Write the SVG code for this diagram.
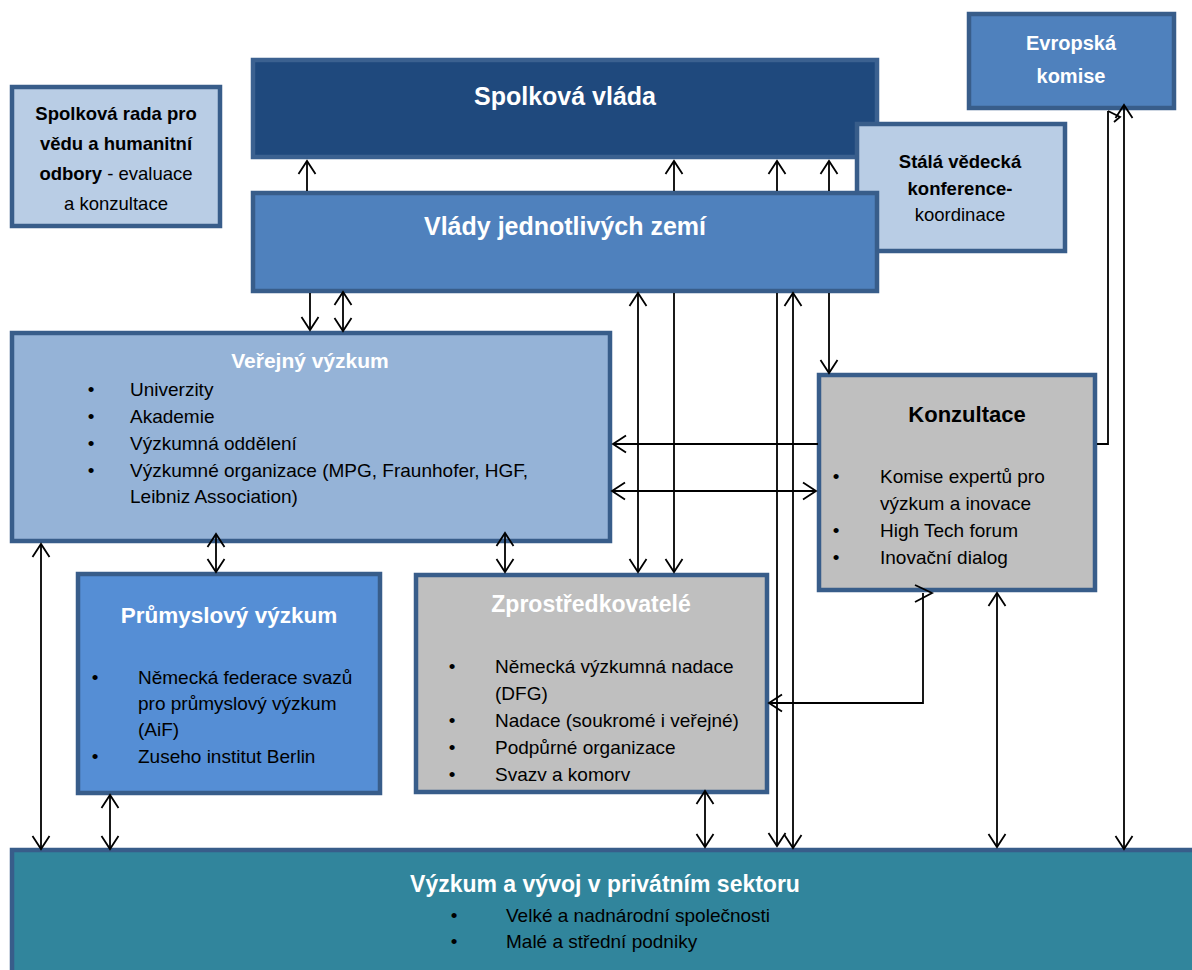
<svg xmlns="http://www.w3.org/2000/svg" width="1192" height="970" viewBox="0 0 1192 970">
<style>
.box{stroke:#385D8A;stroke-width:4.5}
text{font-family:"Liberation Sans",Arial,sans-serif;fill:#000}
.t{font-weight:bold;fill:#fff;text-anchor:middle}
.b{font-size:19px}
.bu{font-size:19px;text-anchor:middle}
.c{fill:none;stroke:#000;stroke-width:1.8}
</style>
<defs>
<marker id="ah" viewBox="-15 -11 17 22" refX="0" refY="0" markerWidth="17" markerHeight="22" markerUnits="userSpaceOnUse" orient="auto-start-reverse">
<path d="M-13,-8.5 L0,0 L-13,8.5" fill="none" stroke="#000" stroke-width="1.8"/>
</marker>
</defs>
<rect width="1192" height="970" fill="#fff"/>

<g id="spolkova-rada">
<rect class="box" x="12" y="87" width="208" height="139" fill="#B9CDE5"/>
<text x="116" y="120" font-size="18.5" text-anchor="middle" font-weight="bold">Spolková rada pro</text>
<text x="116" y="150" font-size="18.5" text-anchor="middle" font-weight="bold">vědu a humanitní</text>
<text x="116" y="180" font-size="18.5" text-anchor="middle"><tspan font-weight="bold">odbory</tspan> - evaluace</text>
<text x="116" y="210" font-size="18.5" text-anchor="middle">a konzultace</text>
</g>

<g id="spolkova-vlada">
<rect x="253" y="60" width="624" height="97" fill="#1F497D" stroke="#3B6190" stroke-width="4.5"/>
<text class="t" x="565" y="105" font-size="25">Spolková vláda</text>
</g>

<g id="stala-konference">
<rect class="box" x="857" y="124" width="208" height="127" fill="#B9CDE5"/>
<text x="960" y="168" font-size="18.5" text-anchor="middle" font-weight="bold">Stálá vědecká</text>
<text x="960" y="195" font-size="18.5" text-anchor="middle" font-weight="bold">konference-</text>
<text x="960" y="221" font-size="18.5" text-anchor="middle">koordinace</text>
</g>

<g id="vlady-zemi">
<rect class="box" x="253" y="193" width="624" height="98" fill="#4F81BD"/>
<text class="t" x="565" y="235" font-size="25">Vlády jednotlivých zemí</text>
</g>

<g id="evropska-komise">
<rect class="box" x="969" y="14" width="205" height="94" fill="#4F81BD"/>
<text class="t" x="1071" y="50" font-size="20">Evropská</text>
<text class="t" x="1071" y="83" font-size="20">komise</text>
</g>

<g id="verejny-vyzkum">
<rect class="box" x="12" y="333" width="598" height="208" fill="#95B3D7"/>
<text class="t" x="310" y="368" font-size="21">Veřejný výzkum</text>
<text class="bu" x="91" y="396">•</text><text class="b" x="130" y="396">Univerzity</text>
<text class="bu" x="91" y="423">•</text><text class="b" x="130" y="423">Akademie</text>
<text class="bu" x="91" y="450">•</text><text class="b" x="130" y="450">Výzkumná oddělení</text>
<text class="bu" x="91" y="477">•</text><text class="b" x="130" y="477">Výzkumné organizace (MPG, Fraunhofer, HGF,</text>
<text class="b" x="130" y="503">Leibniz Association)</text>
</g>

<g id="konzultace">
<rect class="box" x="819" y="375" width="276" height="215" fill="#BFBFBF"/>
<text x="967" y="422" font-size="22" text-anchor="middle" font-weight="bold">Konzultace</text>
<text class="bu" x="836" y="483">•</text><text class="b" x="880" y="483">Komise expertů pro</text>
<text class="b" x="880" y="510">výzkum a inovace</text>
<text class="bu" x="836" y="537">•</text><text class="b" x="880" y="537">High Tech forum</text>
<text class="bu" x="836" y="564">•</text><text class="b" x="880" y="564">Inovační dialog</text>
</g>

<g id="prumyslovy-vyzkum">
<rect class="box" x="78" y="574" width="302" height="219" fill="#558ED5"/>
<text class="t" x="229" y="623" font-size="22.5">Průmyslový výzkum</text>
<text class="bu" x="95" y="684">•</text><text class="b" x="138" y="684">Německá federace svazů</text>
<text class="b" x="138" y="710">pro průmyslový výzkum</text>
<text class="b" x="138" y="736">(AiF)</text>
<text class="bu" x="95" y="763">•</text><text class="b" x="138" y="763">Zuseho institut Berlin</text>
</g>

<g id="zprostredkovatele">
<rect class="box" x="416" y="575" width="351" height="217" fill="#BFBFBF"/>
<text class="t" x="591" y="612" font-size="23">Zprostředkovatelé</text>
<text class="bu" x="452" y="673">•</text><text class="b" x="495" y="673">Německá výzkumná nadace</text>
<text class="b" x="495" y="700">(DFG)</text>
<text class="bu" x="452" y="727">•</text><text class="b" x="495" y="727">Nadace (soukromé i veřejné)</text>
<text class="bu" x="452" y="754">•</text><text class="b" x="495" y="754">Podpůrné organizace</text>
<text class="bu" x="452" y="781">•</text><text class="b" x="495" y="781">Svazv a komorv</text>
</g>

<g id="privatni-sektor">
<rect class="box" x="12" y="850" width="1190" height="130" fill="#31859C"/>
<text class="t" x="605" y="892" font-size="23">Výzkum a vývoj v privátním sektoru</text>
<text class="bu" x="454" y="922">•</text><text class="b" x="506" y="922">Velké a nadnárodní společnosti</text>
<text class="bu" x="454" y="948">•</text><text class="b" x="506" y="948">Malé a střední podniky</text>
</g>

<g id="connectors">
<line class="c" x1="307" y1="191" x2="307" y2="161" marker-end="url(#ah)"/>
<line class="c" x1="674" y1="191" x2="674" y2="161" marker-end="url(#ah)"/>
<line class="c" x1="777" y1="191" x2="777" y2="161" marker-end="url(#ah)"/>
<line class="c" x1="829" y1="191" x2="829" y2="161" marker-end="url(#ah)"/>
<line class="c" x1="310" y1="293" x2="310" y2="330" marker-end="url(#ah)"/>
<line class="c" x1="343" y1="292" x2="343" y2="331" marker-start="url(#ah)" marker-end="url(#ah)"/>
<line class="c" x1="638" y1="293" x2="638" y2="572" marker-start="url(#ah)" marker-end="url(#ah)"/>
<line class="c" x1="674" y1="293" x2="674" y2="572" marker-end="url(#ah)"/>
<line class="c" x1="777" y1="293" x2="777" y2="846" marker-end="url(#ah)"/>
<line class="c" x1="793" y1="293" x2="793" y2="848" marker-start="url(#ah)" marker-end="url(#ah)"/>
<line class="c" x1="829" y1="293" x2="829" y2="373" marker-end="url(#ah)"/>
<line class="c" x1="1124" y1="105" x2="1124" y2="849" marker-start="url(#ah)" marker-end="url(#ah)"/>
<polyline class="c" points="1108,111 1108,444 1097,444"/>
<polyline class="c" points="1108,111 1120,117 1114,122"/>
<line class="c" x1="818" y1="444" x2="613" y2="444" marker-end="url(#ah)"/>
<line class="c" x1="612" y1="491" x2="816" y2="491" marker-start="url(#ah)" marker-end="url(#ah)"/>
<line class="c" x1="41" y1="544" x2="41" y2="849" marker-start="url(#ah)" marker-end="url(#ah)"/>
<line class="c" x1="216" y1="534" x2="216" y2="572" marker-start="url(#ah)" marker-end="url(#ah)"/>
<line class="c" x1="505" y1="533" x2="505" y2="572" marker-start="url(#ah)" marker-end="url(#ah)"/>
<line class="c" x1="110" y1="795" x2="110" y2="849" marker-start="url(#ah)" marker-end="url(#ah)"/>
<line class="c" x1="705" y1="791" x2="705" y2="847" marker-start="url(#ah)" marker-end="url(#ah)"/>
<line class="c" x1="997" y1="593" x2="997" y2="847" marker-start="url(#ah)" marker-end="url(#ah)"/>
<polyline class="c" points="923,593 923,703 769,703" marker-end="url(#ah)"/>
<polyline class="c" points="915,585 932,593 915,602"/>
</g>
</svg>
